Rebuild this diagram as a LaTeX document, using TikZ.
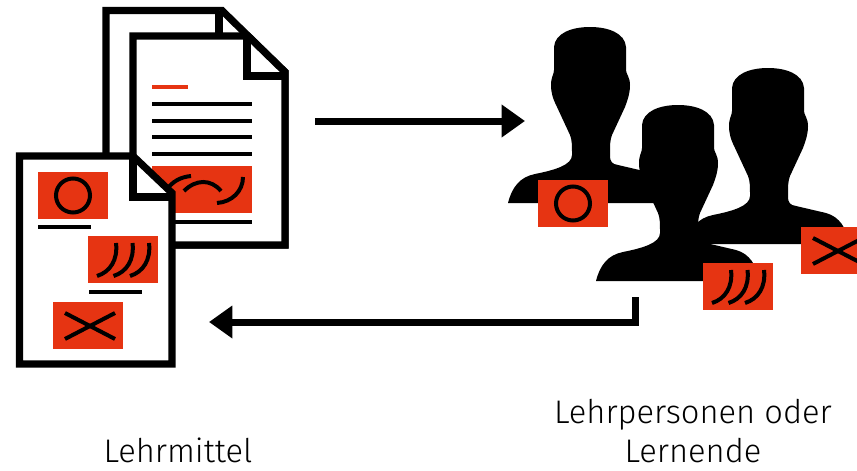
\documentclass[tikz,border=0pt]{standalone}
\usepackage{fontspec}
\setmainfont{Fira Sans}[UprightFont=* Light]
\usepackage{xcolor}
\usetikzlibrary{arrows.meta}
\definecolor{theme}{RGB}{230, 52, 18}

\tikzset{
  doc/.style={draw=black, fill=white, line width=5.4pt, miter limit=10},
  textline/.style={draw=black, line width=3pt},
  glyph/.style={draw=black, line width=3pt},
  card/.style={fill=theme},
  bigarrow/.style={draw=black, line width=5.25pt, -{Triangle[length=17.5pt, width=23.5pt]}},
  caption/.style={font=\fontsize{24.5}{29}\selectfont, align=center, inner sep=0pt},
  person/.pic={
    \fill[black] (0,0) .. controls (18,0) and (35,6) .. (36,20) -- (36,43)
      .. controls (36,47) and (40,50) .. (40,58) .. controls (40,66) and (38,72) .. (35,80)
      -- (22,108) .. controls (20,113) and (20,118) .. (20,128) .. controls (20,135) and (22,137) .. (28,138)
      -- (58,145) .. controls (72,149) and (78,160) .. (82,176) -- (-82,176)
      .. controls (-78,160) and (-70,150) .. (-55,147) .. controls (-35,143) and (-18,138) .. (-18,128)
      .. controls (-18,118) and (-18,113) .. (-20,108) -- (-33,80)
      .. controls (-37,72) and (-39,66) .. (-39,58) .. controls (-39,50) and (-36,47) .. (-36,43)
      -- (-36,20) .. controls (-35,6) and (-18,0) .. (0,0) -- cycle;
  },
  ringcard/.pic={
    \fill[card] (0,0) rectangle (70,47);
    \draw[glyph] (35,23.5) circle (17);
  },
  archcard/.pic={
    \fill[card] (0,0) rectangle (70,47);
    \foreach \dx in {0,16.5,33}
      \draw[glyph] (9+\dx,40) .. controls (22+\dx,36) and (30+\dx,24) .. (28+\dx,7);
  },
  crosscard/.pic={
    \fill[card] (0,0) rectangle (70,47);
    \draw[glyph] (12,11) -- (62,37);
    \draw[glyph] (12,37) -- (62,11);
  },
}

\begin{document}
\begin{tikzpicture}[x=.75pt, y=-.75pt]
  \useasboundingbox (0,0) rectangle (857,471);
  \clip (0,0) rectangle (857,471);

  % back pages
  \draw[doc] (106,10.5) -- (222,10.5) -- (285,72) -- (285,245) -- (106,245) -- cycle;
  \draw[doc] (219,10.5) -- (219,40);
  \draw[doc] (133,36) -- (248,36) -- (285,72) -- (285,245) -- (133,245) -- cycle;
  \draw[doc, fill=none] (247,36) -- (247,76) -- (285,76);
  \fill[theme] (152,85) rectangle (188,89);
  \foreach \ly in {104,120.5,137,154,222}
    \draw[textline] (152,\ly) -- (252,\ly);
  \fill[card] (152,166) rectangle (252,213);
  \draw[glyph] (165,192) .. controls (172,181) and (181,177) .. (191,176);
  \draw[glyph] (184,191) .. controls (196,179) and (211,179) .. (221,191);
  \draw[glyph] (217,203) .. controls (232,202) and (243,191) .. (243,177);

  % front page
  \draw[doc] (19.5,156) -- (133,156) -- (172,193) -- (172,364) -- (19.5,364) -- cycle;
  \draw[doc, fill=none] (133,156) -- (133,197) -- (172,197);
  \pic at (38,172) {ringcard};
  \draw[textline] (38,227) -- (91,227);
  \pic at (88,236) {archcard};
  \draw[textline] (89,292) -- (142,292);
  \pic at (53,302) {crosscard};

  % people
  \pic at (590,27) {person};
  \pic at (538,180) {ringcard};
  \pic at (768,68) {person};
  \pic at (801,227) {crosscard};
  \pic at (678,105) {person};
  \pic at (703,263) {archcard};

  % arrows
  \coordinate (docout) at (315,121);
  \coordinate (peoplein) at (525,121);
  \coordinate (peopleout) at (635,297);
  \coordinate (docin) at (209,322);
  \draw[bigarrow] (docout) -- (peoplein);
  \draw[bigarrow] (peopleout) |- (docin);

  \node[caption] (teachers) at (693,431) {Lehrpersonen oder\\Lernende};
  \node[caption] (material) at (178,450) {Lehrmittel};
\end{tikzpicture}
\end{document}
